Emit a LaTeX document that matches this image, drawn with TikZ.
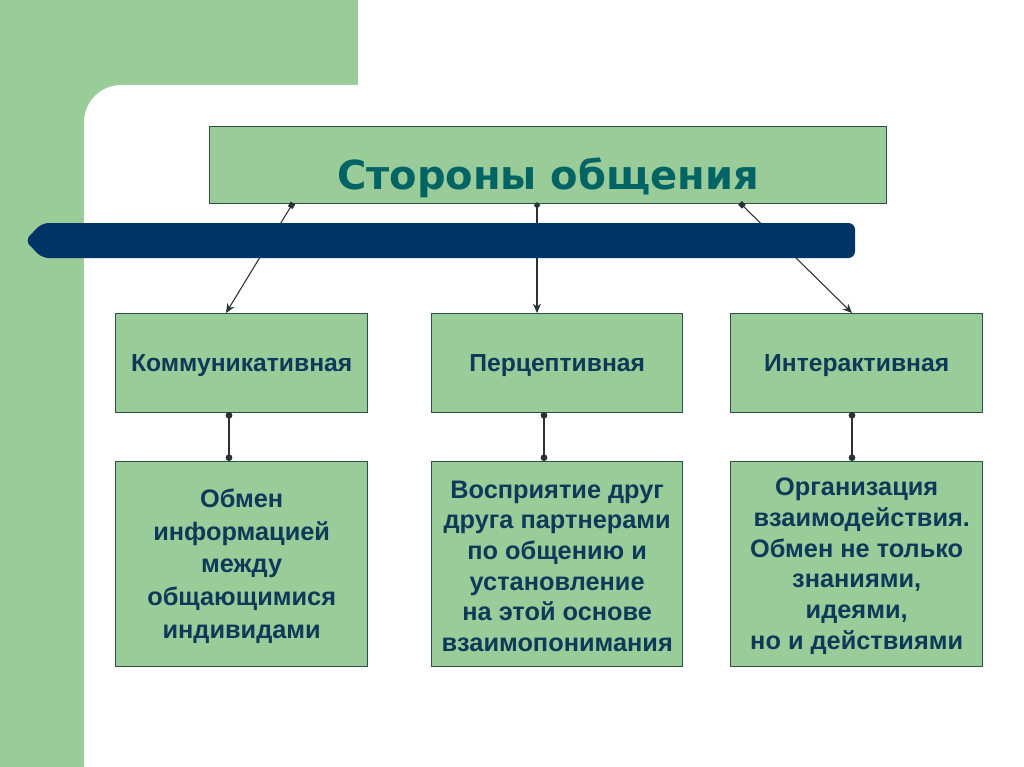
\documentclass[tikz,border=0pt]{standalone}
\usepackage{fontspec}
\setmainfont{Liberation Sans}
\newfontfamily\titlefont{DejaVu Sans}
\usetikzlibrary{arrows.meta}
\definecolor{bggreen}{RGB}{153,204,153}
\definecolor{boxgreen}{RGB}{153,204,153}
\definecolor{boxline}{RGB}{45,80,75}
\definecolor{navy}{RGB}{0,51,102}
\definecolor{titlecol}{RGB}{0,100,100}
\definecolor{textcol}{RGB}{12,58,88}
\definecolor{linecol}{RGB}{40,50,55}
\tikzset{
  greenbox/.style={draw=boxline, line width=1pt, fill=boxgreen, inner sep=0pt, anchor=north west},
  kindlabel/.style={font=\bfseries\fontsize{18.5}{22}\selectfont, text=textcol},
  desclabel/.style={font=\bfseries\fontsize{19}{23}\selectfont, text=textcol, align=center},
  conn/.style={draw=linecol, line width=0.8pt},
}
\begin{document}
\begin{tikzpicture}[x=0.75pt,y=-0.75pt]
\useasboundingbox (0,0) rectangle (1024,767);
\fill[white] (0,0) rectangle (1024,767);
% green L background
\fill[bggreen] (0,0) rectangle (358,120);
\fill[bggreen] (0,0) rectangle (120,767);
\fill[white, rounded corners=28pt] (84,85) rectangle (1200,900);
\fill[white] (358,0) rectangle (1024,85);
% title box
\node[greenbox, minimum width=677*0.75pt, minimum height=77*0.75pt] (title) at (209,126) {};
\node[font=\bfseries\fontsize{30}{34}\selectfont\titlefont, text=titlecol] (titletext) at (548,178) {Стороны общения};
% row 1 boxes
\node[greenbox, minimum width=252*0.75pt, minimum height=99*0.75pt] (k1) at (115,313) {};
\node[greenbox, minimum width=251*0.75pt, minimum height=99*0.75pt] (k2) at (431,313) {};
\node[greenbox, minimum width=252*0.75pt, minimum height=99*0.75pt] (k3) at (730,313) {};
\node[kindlabel] (k1t) at ([yshift=-2*0.75pt]k1.center) {Коммуникативная};
\node[kindlabel] (k2t) at ([yshift=-2*0.75pt]k2.center) {Перцептивная};
\node[kindlabel] (k3t) at ([yshift=-2*0.75pt]k3.center) {Интерактивная};
% row 2 boxes
\node[greenbox, minimum width=252*0.75pt, minimum height=205*0.75pt] (d1) at (115,461) {};
\node[greenbox, minimum width=251*0.75pt, minimum height=205*0.75pt] (d2) at (431,461) {};
\node[greenbox, minimum width=252*0.75pt, minimum height=205*0.75pt] (d3) at (730,461) {};
\node[desclabel, font=\bfseries\fontsize{19}{24.5}\selectfont] (d1t) at ([yshift=-2*0.75pt]d1.center) {Обмен\\информацией\\между\\общающимися\\индивидами};
\node[desclabel] (d2t) at ([yshift=-2*0.75pt]d2.center) {Восприятие друг\\друга партнерами\\по общению и\\установление\\на этой основе\\взаимопонимания};
\node[desclabel] (d3t) at ([yshift=-2*0.75pt]d3.center) {Организация\\\hspace*{0.4em}взаимодействия.\\Обмен не только\hspace*{0.2em}\\знаниями,\\идеями,\\но и действиями};
% connectors from title
\coordinate (s1) at (293,203);
\coordinate (s2) at (537,202);
\coordinate (s3) at (740,203);
\coordinate (e1) at (226,313);
\coordinate (e3) at (852,313);
\draw[conn, {Square[length=4pt,width=4pt]}-{Stealth[length=7pt,width=6pt]}] (s1) -- (e1);
\draw[conn, {Diamond[length=5pt,width=5pt]}-{Stealth[length=7pt,width=6pt]}] (s2) -- (s2 |- k2.north);
\draw[conn, {Square[length=4pt,width=4pt]}-{Stealth[length=7pt,width=6pt]}] (s3) -- (e3);
% navy bar on top of connectors
\fill[navy, rounded corners=5pt] (855,223) -- (42,223) -- (25,240.5) -- (42,258) -- (855,258) -- cycle;
% vertical connectors between rows
\draw[conn, {Circle[length=5pt]}-{Circle[length=5pt]}] (229,412) -- (229,461);
\draw[conn, {Circle[length=5pt]}-{Circle[length=5pt]}] (544,412) -- (544,461);
\draw[conn, {Circle[length=5pt]}-{Circle[length=5pt]}] (852,412) -- (852,461);
\end{tikzpicture}
\end{document}
